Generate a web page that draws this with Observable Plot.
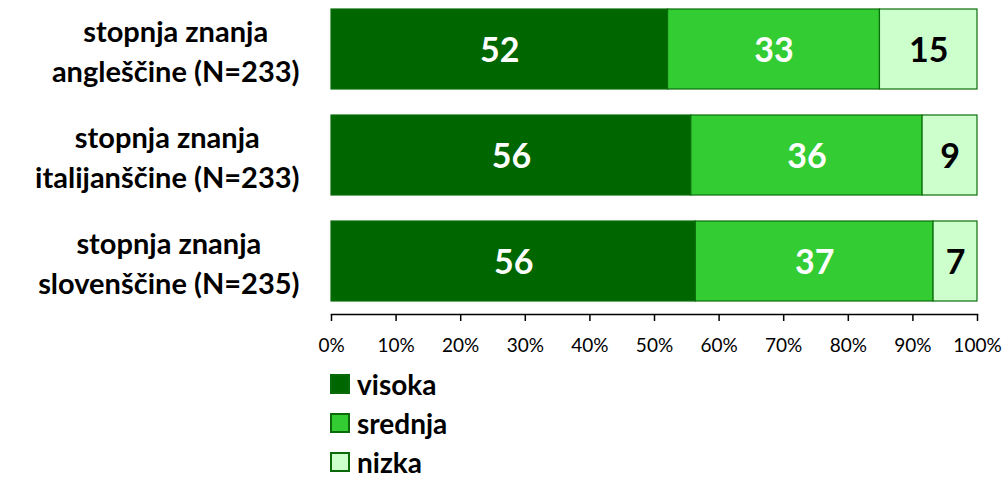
<!DOCTYPE html>
<html>
<head>
<meta charset="utf-8">
<script src="https://cdn.jsdelivr.net/npm/d3@7"></script>
<script src="https://cdn.jsdelivr.net/npm/@observablehq/plot@0.6"></script>
<style>
  body { margin: 0; background: #fff; font-family: Lato, "Open Sans", sans-serif; overflow: hidden; }
  #chart svg { display: block; }
  #legend { margin-left: 330px; margin-top: 5px; }
  .item { display: flex; align-items: center; height: 28px; line-height: 1; margin-bottom: 11px; font-weight: bold; font-size: 28px; color: #000; }
  .item:last-child { margin-bottom: 0; }
  .sw { width: 20px; height: 20px; border: 2px solid #0a6a0a; margin-right: 7px; box-sizing: border-box; }
</style>
</head>
<body>
<div id="chart"></div>
<div id="legend"></div>
<script>
const categories = ["stopnja znanja\nangleščine (N=233)", "stopnja znanja\nitalijanščine (N=233)", "stopnja znanja\nslovenščine (N=235)"];
const levels = ["visoka", "srednja", "nizka"];
const visoka = [52.1, 55.7, 56.4];
const srednja = [32.8, 35.8, 36.8];
const nizka = [15.1, 8.5, 6.8];
const xTicks = [0, 10, 20, 30, 40, 50, 60, 70, 80, 90, 100];
const colors = ["#006600", "#33CC33", "#CCFFCC"];

const series = [visoka, srednja, nizka];
const data = categories.flatMap((c, i) => levels.map((l, j) => ({cat: c, level: l, value: series[j][i]})));

const plot = Plot.plot({
  width: 1007,
  height: 365,
  marginLeft: 331,
  marginRight: 30,
  marginTop: 8,
  marginBottom: 51,
  style: {fontFamily: "Lato, 'Open Sans', sans-serif", background: "#fff", color: "#000"},
  x: {domain: [0, 100], label: null},
  y: {domain: categories, range: [8, 301], paddingInner: 0.25, paddingOuter: 0, axis: null},
  color: {domain: levels, range: colors},
  marks: [
    Plot.barX(data, Plot.stackX({y: "cat", x: "value", fill: "level", stroke: "#0a6e0a", strokeWidth: 1.2})),
    Plot.text(data, Plot.stackX({y: "cat", x: "value", z: "level",
      text: d => d.level === "nizka" ? null : String(Math.round(d.value)),
      fill: "white", fontSize: 34, fontWeight: "bold", dy: 2})),
    Plot.text(data, Plot.stackX({y: "cat", x: "value", z: "level",
      text: d => d.level === "nizka" ? String(Math.round(d.value)) : null,
      fill: "black", fontSize: 34, fontWeight: "bold", dy: 2})),
    Plot.text(categories, {y: d => d, text: d => d, frameAnchor: "left", textAnchor: "middle",
      lineHeight: 1.38, fontSize: 29, fontWeight: "bold", fill: "black"}),
    Plot.frame({anchor: "bottom", stroke: "#000", strokeWidth: 1.5}),
    Plot.axisX({ticks: xTicks, tickFormat: d => d + "%", tickSize: 7, tickPadding: 17, fontSize: 19, stroke: "#000", strokeWidth: 1.5, fill: "#000", label: null})
  ]
});
document.getElementById("chart").appendChild(plot);

// Right-align each label block at x=299 with lines centered within it
const textGroups = plot.querySelectorAll('g[aria-label="text"]');
const labelGroup = textGroups[textGroups.length - 1];
labelGroup.querySelectorAll('text').forEach(t => {
  const w = t.getBBox().width;
  const tr = t.getAttribute("transform") || "";
  const m = tr.match(/translate\(([-\d.]+),\s*([-\d.]+)\)/);
  if (m) t.setAttribute("transform", `translate(${299 - w / 2},${m[2]})`);
});

const legend = document.getElementById("legend");
levels.forEach((l, j) => {
  const it = document.createElement("div");
  it.className = "item";
  const sw = document.createElement("div");
  sw.className = "sw";
  sw.style.background = colors[j];
  it.appendChild(sw);
  it.appendChild(document.createTextNode(l));
  legend.appendChild(it);
});
</script>
</body>
</html>
